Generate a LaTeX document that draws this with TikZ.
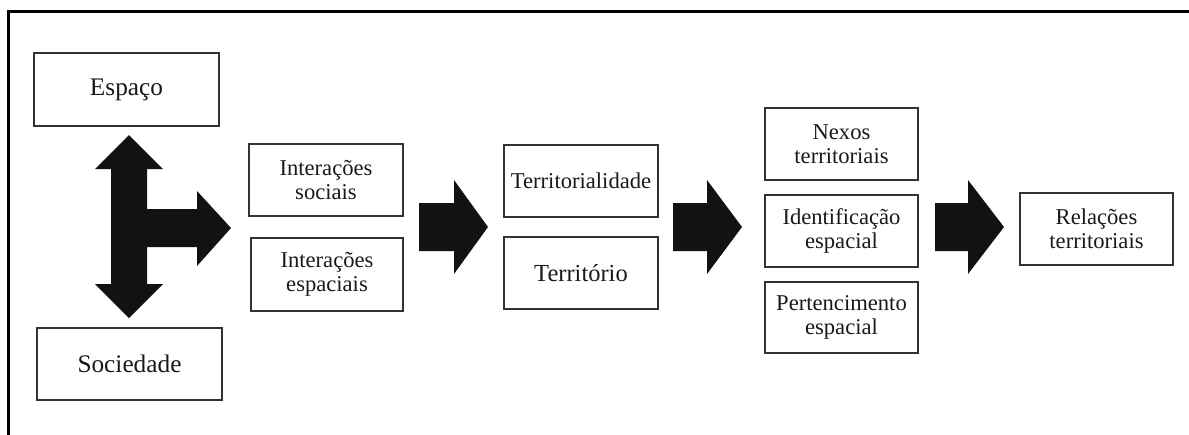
\documentclass[tikz,border=0pt]{standalone}
\usepackage{fontspec}
\setmainfont{Liberation Serif}
\begin{document}
\begin{tikzpicture}[x=1pt,y=-1pt,
  box/.style={draw=black!80,line width=1.2pt,inner sep=0pt,align=center,
    font=\fontsize{22.6}{24}\selectfont,text=black!90},
  bigtext/.style={font=\fontsize{25.3}{26}\selectfont},
  blockarrow/.style={fill=black!93,draw=none}]
\useasboundingbox (0,0) rectangle (1189,434);
\draw[line width=3pt,line cap=rect] (8.5,434) -- (8.5,11.5) -- (1189,11.5);

\node[box,bigtext,minimum width=185pt,minimum height=73pt] (esp) at (126.5,89.5) {Espaço};
\node[box,bigtext,minimum width=185pt,minimum height=72pt] (soc) at (129.5,364) {Sociedade};

\node[box,minimum width=154pt,minimum height=72pt] (isoc) at (326,180) {Interações\\sociais};
\node[box,minimum width=152pt,minimum height=73pt] (iesp) at (327,274.5) {Interações\\espaciais};

\node[box,minimum width=154pt,minimum height=72pt] (tlid) at (581,181) {Territorialidade};
\node[box,font=\fontsize{24.5}{25}\selectfont,minimum width=154pt,minimum height=72pt] (terr) at (581,273) {Território};

\node[box,minimum width=153pt,minimum height=72pt] (nex) at (841.5,144) {Nexos\\territoriais};
\node[box,minimum width=153pt,minimum height=72pt] (ide) at (841.5,231) {Identificação\\espacial};
\node[box,minimum width=153pt,minimum height=71pt] (per) at (841.5,317.5) {Pertencimento\\espacial};

\node[box,minimum width=153pt,minimum height=72pt] (rel) at (1096.5,229) {Relações\\territoriais};

% T-shaped arrow
\fill[blockarrow] (129,135) -- (163,169) -- (147,169) -- (147,209) -- (197,209) -- (197,191)
  -- (231,228) -- (197,266) -- (197,247) -- (147,247) -- (147,284) -- (163,284)
  -- (129,318) -- (95,284) -- (111,284) -- (111,169) -- (95,169) -- cycle;

% block arrows
\foreach \a/\b/\c in {419/454/488, 673/707/742, 935/968/1004}{
  \fill[blockarrow] (\a,203) -- (\b,203) -- (\b,180) -- (\c,227) -- (\b,274) -- (\b,251) -- (\a,251) -- cycle;
}
\end{tikzpicture}
\end{document}
